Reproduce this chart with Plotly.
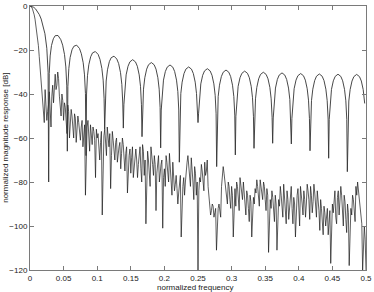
import plotly.graph_objects as go

# ---------------- data ----------------
x_ticks = [0, 0.05, 0.1, 0.15, 0.2, 0.25, 0.3, 0.35, 0.4, 0.45, 0.5]
x_ticklabels = ["0", "0.05", "0.1", "0.15", "0.2", "0.25", "0.3", "0.35", "0.4", "0.45", "0.5"]
y_ticks = [0, -20, -40, -60, -80, -100, -120]
y_ticklabels = ["0", "\u221220", "\u221240", "\u221260", "\u221280", "\u2212100", "\u2212120"]

# window (rectangular) magnitude response: frequency / dB
window_f = [
    0, 0.00278, 0.00556, 0.00833, 0.01111, 0.01389, 0.01667, 0.01944, 0.02222, 0.025, 0.02639, 0.02694,
    0.02778, 0.02861, 0.03, 0.03195, 0.03472, 0.0375, 0.04167, 0.04584, 0.04861, 0.05139, 0.05334, 0.05472,
    0.05556, 0.05639, 0.05778, 0.05973, 0.0625, 0.06528, 0.06945, 0.07362, 0.07639, 0.07917, 0.08112, 0.0825,
    0.08333, 0.08416, 0.08555, 0.0875, 0.09027, 0.09305, 0.09722, 0.10139, 0.10416, 0.10694, 0.10889, 0.11027,
    0.11111, 0.11194, 0.11333, 0.11528, 0.11805, 0.12083, 0.125, 0.12917, 0.13194, 0.13472, 0.13667, 0.13805,
    0.13889, 0.13972, 0.14111, 0.14306, 0.14583, 0.14861, 0.15278, 0.15695, 0.15972, 0.1625, 0.16445, 0.16583,
    0.16667, 0.1675, 0.16889, 0.17084, 0.17361, 0.17639, 0.18056, 0.18473, 0.1875, 0.19028, 0.19223, 0.19361,
    0.19444, 0.19527, 0.19666, 0.19861, 0.20138, 0.20416, 0.20833, 0.2125, 0.21527, 0.21805, 0.22, 0.22138,
    0.22222, 0.22305, 0.22444, 0.22639, 0.22916, 0.23194, 0.23611, 0.24028, 0.24305, 0.24583, 0.24778, 0.24916,
    0.25, 0.25083, 0.25222, 0.25417, 0.25694, 0.25972, 0.26389, 0.26806, 0.27083, 0.27361, 0.27556, 0.27694,
    0.27778, 0.27861, 0.28, 0.28195, 0.28472, 0.2875, 0.29167, 0.29584, 0.29861, 0.30139, 0.30334, 0.30472,
    0.30556, 0.30639, 0.30778, 0.30973, 0.3125, 0.31528, 0.31945, 0.32362, 0.32639, 0.32917, 0.33112, 0.3325,
    0.33333, 0.33416, 0.33555, 0.3375, 0.34027, 0.34305, 0.34722, 0.35139, 0.35416, 0.35694, 0.35889, 0.36027,
    0.36111, 0.36194, 0.36333, 0.36528, 0.36805, 0.37083, 0.375, 0.37917, 0.38194, 0.38472, 0.38667, 0.38805,
    0.38889, 0.38972, 0.39111, 0.39306, 0.39583, 0.39861, 0.40278, 0.40695, 0.40972, 0.4125, 0.41445, 0.41583,
    0.41667, 0.4175, 0.41889, 0.42084, 0.42361, 0.42639, 0.43056, 0.43473, 0.4375, 0.44028, 0.44223, 0.44361,
    0.44444, 0.44527, 0.44666, 0.44861, 0.45138, 0.45416, 0.45833, 0.4625, 0.46527, 0.46805, 0.47, 0.47138,
    0.47222, 0.47305, 0.47444, 0.47639, 0.47916, 0.48194, 0.48611, 0.49028, 0.49305, 0.49583, 0.49805,
]
window_db = [
    0, -0.14, -0.58, -1.33, -2.42, -3.92, -5.94, -8.69, -12.6, -19.2, -25.6, -30.1,
    -80, -30.7, -22.7, -18.0, -14.9, -13.5, -13.4, -15.3, -17.8, -22.1, -27.7, -36.3,
    -66, -36.6, -28.4, -23.4, -19.9, -18.3, -17.8, -19.3, -21.7, -25.8, -31.3, -39.8,
    -68, -40.0, -31.7, -26.7, -23.1, -21.3, -20.7, -22.0, -24.3, -28.4, -33.7, -42.2,
    -56, -42.4, -34.1, -29.0, -25.3, -23.5, -22.8, -24.1, -26.2, -30.3, -35.6, -44.1,
    -55.5, -44.9, -36.5, -31.3, -27.4, -25.4, -24.4, -25.4, -27.4, -31.3, -36.5, -44.9,
    -59.4, -46.2, -37.8, -32.6, -28.7, -26.7, -25.7, -26.7, -28.7, -32.6, -37.8, -46.2,
    -64.5, -47.3, -38.9, -33.7, -29.8, -27.8, -26.8, -27.8, -29.8, -33.7, -38.9, -47.3,
    -71, -48.2, -39.8, -34.6, -30.7, -28.7, -27.7, -28.7, -30.7, -34.6, -39.8, -48.2,
    -53, -49.0, -40.6, -35.4, -31.5, -29.5, -28.5, -29.5, -31.5, -35.4, -40.6, -49.0,
    -73, -49.6, -41.2, -36.0, -32.1, -30.1, -29.1, -30.1, -32.1, -36.0, -41.2, -49.6,
    -67.7, -50.1, -41.7, -36.5, -32.6, -30.6, -29.6, -30.6, -32.6, -36.5, -41.7, -50.1,
    -64.7, -50.6, -42.2, -37.0, -33.1, -31.1, -30.1, -31.1, -33.1, -37.0, -42.2, -50.6,
    -62.4, -50.9, -42.5, -37.3, -33.4, -31.4, -30.4, -31.4, -33.4, -37.3, -42.5, -50.9,
    -62.7, -51.2, -42.8, -37.6, -33.7, -31.7, -30.7, -31.7, -33.7, -37.6, -42.8, -51.2,
    -65.8, -51.4, -43.0, -37.8, -33.9, -31.9, -30.9, -31.9, -33.9, -37.8, -43.0, -51.4,
    -69.2, -51.5, -43.1, -37.9, -34.0, -32.0, -31.0, -32.0, -34.0, -37.9, -43.1, -51.5,
    -75.3, -51.6, -43.2, -38.0, -34.1, -32.1, -31.1, -32.1, -34.1, -38.0, -44.3,
]

# estimated (noisy) spectrum, coarse samples: frequency / dB
estimate_f_a = [
    0, 0.0025, 0.005, 0.0075, 0.01, 0.0125, 0.015, 0.0175, 0.02, 0.0225,
    0.025, 0.0275, 0.03, 0.0325, 0.035, 0.0375, 0.04, 0.0425, 0.045, 0.0475,
    0.05, 0.0525, 0.055, 0.0575, 0.06, 0.0625, 0.065, 0.0675, 0.07, 0.0725,
    0.075, 0.0775, 0.08, 0.0825, 0.085, 0.0875, 0.09, 0.0925, 0.095, 0.0975,
    0.1, 0.1025, 0.105, 0.1075, 0.11, 0.1125, 0.115, 0.1175, 0.12, 0.1225,
    0.125, 0.1275, 0.13, 0.1325, 0.135, 0.1375, 0.14, 0.1425, 0.145, 0.1475,
    0.15, 0.1525, 0.155, 0.1575, 0.16, 0.1625, 0.165, 0.1675, 0.17, 0.1725,
    0.175, 0.1775, 0.18, 0.1825, 0.185, 0.1875, 0.19, 0.1925, 0.195, 0.1975,
    0.2, 0.2025, 0.205, 0.2075, 0.21, 0.2125, 0.215, 0.2175, 0.22, 0.2225,
    0.225, 0.2275, 0.23, 0.2325, 0.235, 0.2375, 0.24, 0.2425, 0.245, 0.2475,
    0.25, 0.2525, 0.255, 0.2575, 0.26, 0.2625, 0.265, 0.2675, 0.27, 0.2725,
    0.275, 0.2775, 0.28, 0.2825, 0.285, 0.2875, 0.29, 0.2925, 0.295, 0.2975,
    0.3, 0.3025, 0.305, 0.3075, 0.31, 0.3125, 0.315, 0.3175, 0.32, 0.3225,
    0.325, 0.3275, 0.33, 0.3325, 0.335, 0.3375, 0.34, 0.3425, 0.345, 0.3475,
    0.35, 0.3525, 0.355, 0.3575, 0.36, 0.3625, 0.365, 0.3675, 0.37, 0.3725,
    0.375, 0.3775, 0.38, 0.3825, 0.385, 0.3875, 0.39, 0.3925, 0.395, 0.3975,
    0.4, 0.4025, 0.405, 0.4075, 0.41, 0.4125, 0.415, 0.4175, 0.42, 0.4225,
    0.425, 0.4275, 0.43, 0.4325, 0.435, 0.4375, 0.44, 0.4425, 0.445, 0.4475,
    0.45, 0.4525, 0.455, 0.4575, 0.46, 0.4625, 0.465, 0.4675, 0.47, 0.4725,
    0.475, 0.4775, 0.48, 0.4825, 0.485, 0.4875, 0.49, 0.4925, 0.495, 0.4975,
    0.5,
]
estimate_db_a = [
    0, -0.5, -2.5, -6, -11, -18, -28, -36, -47, -38,
    -52, -45, -50, -41, -44, -31, -36, -33, -45, -40,
    -52, -46, -58, -48, -55, -50, -60, -51, -57, -53,
    -61, -52, -58, -86, -55, -60, -54, -63, -57, -78,
    -60, -66, -62, -95, -59, -63, -55, -64, -83, -57,
    -65, -62, -71, -64, -74, -60, -70, -67, -85, -68,
    -76, -64, -72, -65, -78, -66, -74, -63, -77, -99,
    -66, -75, -64, -72, -68, -93, -70, -80, -72, -101,
    -74, -68, -75, -67, -78, -71, -84, -77, -90, -80,
    -105, -82, -86, -74, -68, -76, -69, -80, -73, -86,
    -120, -78, -72, -79, -71, -75, -82, -90, -93, -91,
    -94, -111, -92, -94, -82, -73, -79, -86, -80, -88,
    -82, -105, -83, -80, -87, -78, -85, -80, -90, -84,
    -92, -86, -105, -87, -83, -79, -86, -79, -84, -80,
    -88, -83, -112, -88, -84, -92, -86, -111, -88, -82,
    -90, -81, -93, -84, -97, -85, -92, -87, -105, -86,
    -95, -82, -90, -84, -96, -81, -88, -82, -94, -81,
    -90, -84, -93, -88, -98, -91, -100, -92, -97, -117,
    -90, -86, -96, -87, -95, -82, -92, -86, -97, -90,
    -118, -92, -86, -94, -82, -80, -90, -96, -120, -100,
    -120,
]

# estimated (noisy) spectrum, in-between samples: frequency / dB
estimate_f_b = [
    0.00125, 0.00375, 0.00625, 0.00875, 0.01125, 0.01375, 0.01625, 0.01875, 0.02125, 0.02375,
    0.02625, 0.02875, 0.03125, 0.03375, 0.03625, 0.03875, 0.04125, 0.04375, 0.04625, 0.04875,
    0.05125, 0.05375, 0.05625, 0.05875, 0.06125, 0.06375, 0.06625, 0.06875, 0.07125, 0.07375,
    0.07625, 0.07875, 0.08125, 0.08375, 0.08625, 0.08875, 0.09125, 0.09375, 0.09625, 0.09875,
    0.10125, 0.10375, 0.10625, 0.10875, 0.11125, 0.11375, 0.11625, 0.11875, 0.12125, 0.12375,
    0.12625, 0.12875, 0.13125, 0.13375, 0.13625, 0.13875, 0.14125, 0.14375, 0.14625, 0.14875,
    0.15125, 0.15375, 0.15625, 0.15875, 0.16125, 0.16375, 0.16625, 0.16875, 0.17125, 0.17375,
    0.17625, 0.17875, 0.18125, 0.18375, 0.18625, 0.18875, 0.19125, 0.19375, 0.19625, 0.19875,
    0.20125, 0.20375, 0.20625, 0.20875, 0.21125, 0.21375, 0.21625, 0.21875, 0.22125, 0.22375,
    0.22625, 0.22875, 0.23125, 0.23375, 0.23625, 0.23875, 0.24125, 0.24375, 0.24625, 0.24875,
    0.25125, 0.25375, 0.25625, 0.25875, 0.26125, 0.26375, 0.26625, 0.26875, 0.27125, 0.27375,
    0.27625, 0.27875, 0.28125, 0.28375, 0.28625, 0.28875, 0.29125, 0.29375, 0.29625, 0.29875,
    0.30125, 0.30375, 0.30625, 0.30875, 0.31125, 0.31375, 0.31625, 0.31875, 0.32125, 0.32375,
    0.32625, 0.32875, 0.33125, 0.33375, 0.33625, 0.33875, 0.34125, 0.34375, 0.34625, 0.34875,
    0.35125, 0.35375, 0.35625, 0.35875, 0.36125, 0.36375, 0.36625, 0.36875, 0.37125, 0.37375,
    0.37625, 0.37875, 0.38125, 0.38375, 0.38625, 0.38875, 0.39125, 0.39375, 0.39625, 0.39875,
    0.40125, 0.40375, 0.40625, 0.40875, 0.41125, 0.41375, 0.41625, 0.41875, 0.42125, 0.42375,
    0.42625, 0.42875, 0.43125, 0.43375, 0.43625, 0.43875, 0.44125, 0.44375, 0.44625, 0.44875,
    0.45125, 0.45375, 0.45625, 0.45875, 0.46125, 0.46375, 0.46625, 0.46875, 0.47125, 0.47375,
    0.47625, 0.47875, 0.48125, 0.48375, 0.48625, 0.48875, 0.49125, 0.49375, 0.49625, 0.49875,
]
estimate_db_b = [
    -0.2, -1.4, -4, -8.5, -14, -23, -33, -42, -53, -44,
    -48, -39, -55, -36, -39, -38, -30, -41, -50, -43,
    -44, -52, -45, -60, -47, -54, -49, -62, -50, -56,
    -55, -64, -54, -62, -52, -66, -58, -55, -61, -56,
    -58, -70, -57, -66, -56, -68, -60, -58, -68, -61,
    -70, -60, -66, -62, -67, -63, -75, -64, -72, -65,
    -69, -78, -68, -70, -72, -64, -80, -66, -70, -74,
    -70, -82, -67, -77, -72, -76, -68, -75, -70, -78,
    -82, -71, -80, -72, -86, -76, -81, -83, -85, -77,
    -88, -78, -80, -71, -72, -82, -73, -88, -76, -80,
    -84, -80, -75, -84, -77, -70, -86, -95, -90, -96,
    -92, -95, -90, -96, -78, -76, -82, -90, -82, -92,
    -86, -88, -91, -82, -93, -82, -88, -84, -95, -86,
    -98, -89, -92, -90, -85, -82, -91, -82, -88, -82,
    -93, -86, -95, -92, -87, -98, -90, -93, -91, -86,
    -96, -86, -99, -88, -90, -82, -99, -90, -94, -83,
    -100, -85, -95, -88, -90, -84, -97, -86, -89, -85,
    -96, -88, -102, -92, -104, -94, -96, -104, -93, -100,
    -94, -84, -99, -84, -90, -86, -100, -89, -103, -94,
    -99, -95, -88, -98, -86, -84, -93, -99, -104, -106,
]

x_title = "normalized frequency"
y_title = "normalized magnitude response [dB]"

# merge the two sample sets of the estimate in frequency order
estimate_pts = sorted(zip(estimate_f_a + estimate_f_b, estimate_db_a + estimate_db_b))
estimate_f = [p[0] for p in estimate_pts]
estimate_db = [p[1] for p in estimate_pts]

# ---------------- figure ----------------
FONT = "Liberation Sans, Arial, Helvetica, sans-serif"

fig = go.Figure()
fig.add_trace(go.Scatter(x=estimate_f, y=estimate_db, mode="lines",
                         line=dict(color="#1a1a1a", width=0.7), hoverinfo="skip",
                         showlegend=False))
fig.add_trace(go.Scatter(x=window_f, y=window_db, mode="lines",
                         line=dict(color="#333333", width=0.9), hoverinfo="skip",
                         showlegend=False))

axis_common = dict(
    showgrid=False, zeroline=False, showline=True, linecolor="#7a7a7a", linewidth=1,
    mirror="ticks", ticks="inside", ticklen=4, tickwidth=1, tickcolor="#7a7a7a",
    tickfont=dict(family=FONT, size=8, color="#222"), automargin=False,
)
fig.update_xaxes(range=[0, 0.5], tickmode="array", tickvals=x_ticks, ticktext=x_ticklabels,
                 **axis_common)
fig.update_yaxes(range=[-120, 0], tickmode="array", tickvals=y_ticks, ticktext=y_ticklabels,
                 **axis_common)

fig.update_layout(
    width=374, height=292, autosize=False,
    margin=dict(l=30, r=8, t=6, b=22, pad=0),
    paper_bgcolor="white", plot_bgcolor="white",
    font=dict(family=FONT, size=8, color="#222"),
    annotations=[
        dict(text=x_title, xref="paper", yref="paper", x=0.49, y=-0.068,
             xanchor="center", yanchor="middle", showarrow=False,
             font=dict(family=FONT, size=8, color="#222")),
        dict(text=y_title, xref="paper", yref="paper", x=-0.075, y=0.5,
             xanchor="center", yanchor="middle", showarrow=False, textangle=-90,
             font=dict(family=FONT, size=8, color="#222")),
    ],
)

fig.write_html(
    "out.html",
    config={"displayModeBar": False},
    post_script="document.body.style.margin='0';document.body.style.overflow='hidden';",
)
